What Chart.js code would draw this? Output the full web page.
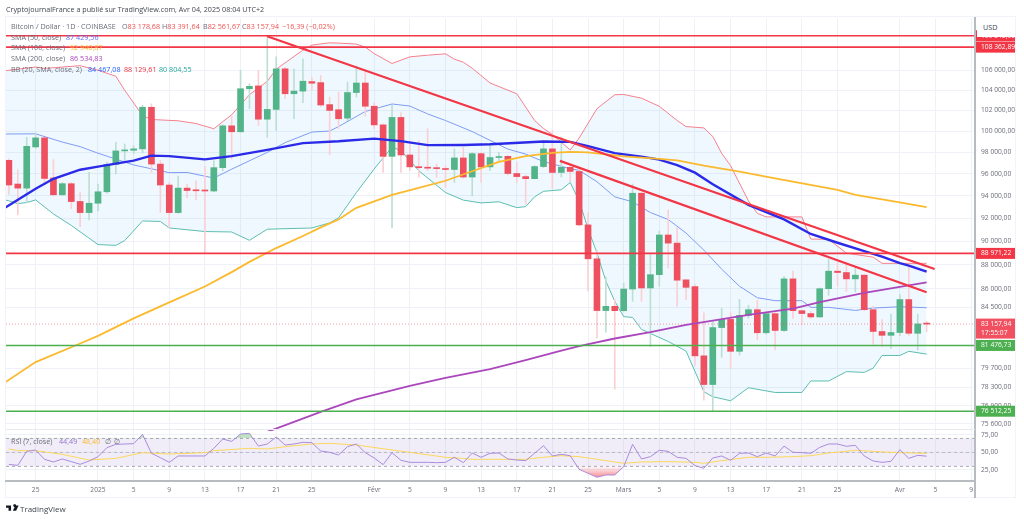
<!DOCTYPE html>
<html>
<head>
<meta charset="utf-8">
<title>Bitcoin / Dollar</title>
<script src="https://cdn.jsdelivr.net/npm/chart.js@4/dist/chart.umd.js"></script>
<style>
  html,body{margin:0;padding:0;background:#fff;}
  body{width:1024px;height:520px;position:relative;overflow:hidden;font-family:"Open Sans",sans-serif;color:#6a6d78;filter:blur(.3px);}
  canvas{position:absolute;left:0;}
  #priceChart{top:0;}
  #rsiChart{top:420px;}
  #frame{position:absolute;left:5px;top:16px;width:1011px;height:482px;border:1px solid #f0f3fa;box-sizing:border-box;}
  #axisLine{position:absolute;left:974px;top:17px;width:2px;height:481px;background:#b8bbc0;}
  #paneLine{position:absolute;left:6px;top:429px;width:969px;height:1px;background:#e8eaee;}
  .t{position:absolute;white-space:nowrap;font-size:7.2px;line-height:10px;}
  #publish{left:6px;top:4px;color:#434651;font-size:7.2px;}
  #usd{position:absolute;left:977px;top:20px;width:38px;height:17px;background:#fff;color:#434651;font-size:7.2px;line-height:15px;text-indent:6px;}
  #tvmark{position:absolute;left:6px;top:504px;}
  #tvname{left:20px;top:504px;color:#434651;font-size:8px;}
  .red{color:#ef5350;} .blue{color:#5b6cff;} .orange{color:#f9b72c;} .violet{color:#ab47bc;}
  .lav{color:#9575cd;} .bbred{color:#f23645;} .teal{color:#26a69a;} .bbblue{color:#2962ff;}
</style>
</head>
<body>
<div id="frame"></div>
<canvas id="priceChart" width="1024" height="441"></canvas>
<canvas id="rsiChart" width="1024" height="80"></canvas>
<div id="axisLine"></div>
<div id="paneLine"></div>

<div class="t" id="publish">CryptojournalFrance a publié sur TradingView.com, Avr 04, 2025 08:04 UTC+2</div>

<div class="t" style="left:11px;top:21px">Bitcoin / Dollar · 1D · COINBASE</div>
<div class="t" style="left:122px;top:21px">O<span class="red">83 178,68</span></div>
<div class="t" style="left:162px;top:21px">H<span class="red">83 391,64</span></div>
<div class="t" style="left:203px;top:21px">B<span class="red">82 561,67</span></div>
<div class="t" style="left:242px;top:21px">C<span class="red">83 157,94</span></div>
<div class="t red" style="left:282px;top:21px">−16,39 (−0,02%)</div>

<div class="t" style="left:11px;top:32px">SMA (50, close)</div>
<div class="t blue" style="left:66px;top:32px">87 429,56</div>
<div class="t" style="left:11px;top:42px">SMA (100, close)</div>
<div class="t orange" style="left:70px;top:42px">92 940,87</div>
<div class="t" style="left:11px;top:53px">SMA (200, close)</div>
<div class="t violet" style="left:70px;top:53px">86 534,83</div>
<div class="t" style="left:11px;top:64px">BB (20, SMA, close, 2)</div>
<div class="t bbblue" style="left:88px;top:64px">84 467,08</div>
<div class="t bbred" style="left:124px;top:64px">88 129,61</div>
<div class="t teal" style="left:159px;top:64px">80 804,55</div>

<div class="t" style="left:11px;top:436px">RSI (7, close)</div>
<div class="t lav" style="left:59px;top:436px">44,49</div>
<div class="t orange" style="left:82px;top:436px">48,40</div>
<div class="t" style="left:105px;top:436px">∅</div>
<div class="t" style="left:114px;top:436px">∅</div>

<div id="usd">USD</div>

<svg id="tvmark" width="13" height="9" viewBox="0 0 36 20"><path fill="#131722" d="M0 2h14v14H7V8H0zM20 2a4 4 0 1 1 0 .01zM26 2h9l-7 14h-9z"/></svg>
<div class="t" id="tvname">TradingView</div>

<script>

// candles, one per day from firstDay on (day 0 = 1 Jan 2025)

const firstDay = -10;

const candleOpen = [
  97250,95070,94700,98500,99360,95620,94100,95100,93500,92510,
  93340,94370,96870,98130,98190,98320,102310,96900,94980,92510,
  94700,94540,94500,94440,96570,100510,99940,104140,104420,101150,
  102100,106140,103640,103900,104850,104750,102570,102070,101250,103760,
  104710,102410,100600,97620,101320,97750,96640,96570,96520,96480,
  96400,97470,95710,97870,96640,97510,97620,96030,95750,95560,
  96670,98320,96130,96600,96220,91430,88510,84240,84580,84230,
  85990,94240,86080,87180,90550,89850,86750,86190,80670,78490,
  82880,83530,81020,83850,84310,82470,83990,82650,86830,84230,
  84000,83730,86020,87471,87360,86830,87140,84310,82570,82270,
  82490,85130,82430,83178.68
];

const candleHigh = [
  97380,96380,99410,99840,99410,97310,95210,95210,94300,96130,
  95070,97060,98940,98780,98620,102510,102650,97220,95210,95810,
  95070,95370,96670,97220,100600,101510,105995,104640,105990,109300,
  107360,106280,106140,107160,105270,105460,103310,103820,104800,106420,
  105820,102750,100700,102510,101780,99010,99103,100230,96900,96750,
  98320,98470,97990,97990,98780,97990,97700,97060,95900,96750,
  99103,100060,99450,96670,96500,92500,89220,87000,85120,86460,
  95070,94300,89020,90897,92750,91180,86770,86360,84050,83370,
  84410,84050,85150,84660,85070,84050,84050,87050,87471,84280,
  84175,86080,88450,88170,88030,87750,87180,84580,83510,83950,
  85540,87970,83950,83391.64
];

const candleLow = [
  94160,92310,93400,98400,95210,94000,94000,92860,91270,91860,
  92660,94240,95980,97060,97850,97940,96130,92510,91180,92450,
  93810,93650,88950,94370,96290,97380,99900,102170,100540,99410,
  100060,103160,101190,102750,103980,102400,97760,100230,101025,103310,
  101440,100230,96130,91180,96130,96290,95680,96290,95680,94780,
  95210,95600,94000,95210,96290,97220,95900,95210,93250,95530,
  96570,94680,95710,95270,91320,85810,82040,82510,78150,84175,
  84987,84987,81400,86220,87740,84580,85120,79930,77330,76466,
  80560,79700,80740,83630,81920,82350,81130,82573,83610,83100,
  83610,83680,85480,86220,85807,85750,84230,81570,81430,81240,
  82250,82250,81130,82561.67
];

const candleClose = [
  94980,94700,98560,99360,95580,94100,95100,93490,92510,93340,
  94370,96870,98130,98190,98320,102310,96900,94980,92510,94700,
  94480,94460,94440,96570,100510,99940,104140,104380,101150,102100,
  106140,103640,103900,104890,104690,102530,102000,101190,103760,104710,
  102410,100600,97620,101320,97750,96640,96570,96520,96480,96400,
  97470,95710,97870,96640,97510,97600,96030,95750,95560,96670,
  98320,96130,96600,96220,91430,88510,84240,84580,84230,85990,
  94240,86080,87180,90550,89850,86720,86130,80670,78490,82880,
  83530,81020,83850,84310,82470,83990,82650,86830,84230,84000,
  83730,86020,87471,87360,86830,87140,84310,82573,82270,82490,
  85130,82430,83170,83157.94
];

// moving averages, read at the days listed next to them

const sma50Days = [-11,-7,-5,-2,0,4,6,8,12,15,19,23,27,31,34,37,41,44,50,53,55,58,61,63,65,67,69,73,77,80,83,86,88,90,91,93];
const sma50 = [92660,94640,95550,96380,96660,97220,97690,97640,97340,97640,98220,98860,99035,99290,99050,98670,98690,98750,99010,98980,98580,97920,97590,97310,96800,96110,95050,93200,91910,90640,89880,89168,88700,88150,87940,87430];

const sma100Days = [-11,-7,-2,0,4,8,12,15,17,20,23,25,27,29,33,36,39,42,45,48,51,53,55,59,63,65,68,72,76,83,85,89,93];
const sma100 = [78400,80190,81630,82225,83610,84905,86195,87390,88250,89426,90460,91210,91900,92930,94095,94730,95368,96240,97100,97640,97940,98030,97990,97620,97380,97240,96750,96200,95590,94550,94095,93554,92990];

const sma200Days = [18,19,22,25,29,35,39,44,48,52,54,58,62,66,69,73,78,81,86,91,93];
const sma200 = [74800,75020,75731,76466,77390,78380,78990,79650,80340,81080,81430,82020,82520,83090,83430,83890,84400,84930,85670,86290,86535];

// bollinger bands

const bbUpperDays = [-11,-7,-6,-2,0,2,3,5,6,9,11,13,15,17,19,20,23,24,26,27,29,30,31,33,35,37,39,40,41,42,44,47,49,50,51,53,54,56,58,59,61,63,65,66,68,69,70,71,73,74,75,79,80,82,84,87,88,91,93];
const bbUpper = [105890,106320,106180,106460,105995,105390,103979,101510,101120,100995,100730,100230,101580,103540,104880,106100,108051,108570,108810,108780,108680,108363,107690,106680,107360,107530,107670,107120,106810,106200,104710,103640,101025,100250,99680,98220,99340,102170,103540,103570,103200,102400,101025,100440,100310,99490,97900,96750,93554,92440,92130,92130,90200,90170,88995,88650,88130,88130,88130];

const bbBasisDays = [-11,-7,-4,-2,0,4,8,10,13,15,19,21,24,26,27,30,33,35,37,39,42,46,48,50,53,54,56,58,60,62,64,66,68,70,72,74,76,79,80,82,85,87,90,93];
const bbBasis = [99725,99745,98960,98530,97910,96820,96110,96130,95620,96430,97990,98910,99910,100010,100440,101900,102630,102430,101660,101025,99960,98300,97830,97130,96470,96320,95280,93910,93470,92510,91900,90720,89250,87640,86220,85280,85040,85040,84500,84500,84250,84440,84550,84467];

const bbLowerDays = [-11,-10,-9,-8,-7,-5,-3,0,2,3,5,7,8,12,15,17,19,24,26,27,29,31,33,34,36,39,41,43,45,47,48,49,50,52,53,54,55,56,57,58,59,60,61,64,66,68,69,71,73,76,79,80,82,84,86,87,88,90,91,93];
const bbLower = [93730,93554,93310,93400,93640,92390,91380,89725,89655,90070,91774,91730,91160,90850,90810,90090,91050,91160,91600,92040,94300,96450,98480,98156,96289,94300,93620,93370,93470,92950,93040,93910,94410,94550,95210,93554,91070,89020,86635,84987,83750,83690,82730,81784,81040,77949,77580,77280,78250,77895,77895,78755,78755,79461,79405,79730,80700,80700,81020,80805];

// trend lines: day, price at both ends

const trendADays = [18.97,93.9];
const trendAPrices = [109500,87660];
const trendBDays = [51.85,93];
const trendBPrices = [97200,85725];

// horizontal levels

const redLevels = [109545,108362.89,88971.22];
const greenLevels = [81476.73,76512.25];
const lastPrice = 83157.94;
const countdown = "17:55:07";

// rsi pane

const rsiValues = [
  32.6,31.4,51.4,53.3,40,36.2,40.5,36.7,32.9,37.6,
  43.8,56.7,61.4,61.9,62.4,75.7,48.6,42.4,35.7,44.8,
  44.8,44.8,44.8,55.7,69,65.7,76.2,77.1,59,61.9,
  71.9,60.5,61.9,64.3,63.8,51.9,50,46.2,58.1,61.9,
  49.5,41.9,32.4,49.5,38.6,35.7,35.7,35.7,35.2,35.7,
  42.9,35.2,49,42.9,48.6,49,40.5,39,38.1,48.6,
  59.5,44.8,47.1,45.2,25.7,20,14.3,17.6,17.6,29.5,
  61.4,40.5,43.8,52.9,51.4,42.9,41.4,31,27.2,41.9,
  44.8,38.6,48.6,49,43.8,49,44.8,59,50,49.5,
  48.6,57.1,61.9,61.9,58.6,60,44.8,37.6,35.7,37.1,
  53.8,41.4,45.7,44.49
];

const rsiMaDays = [-10,-9,-7,-4,-1,2,5,8,12,13,17,19,21,24,26,29,33,35,39,41,42,46,48,50,52,54,57,59,61,64,67,68,70,73,75,78,80,82,85,87,89,93];
const rsiMa = [54.8,52.4,52.4,47.1,39,41.4,49.5,47.6,49.5,52.4,55.7,54.8,58.1,61.9,62.9,60.5,53.3,50,42.9,41.4,40,40,40,42.9,45.2,43.8,38.1,34.3,36.2,36.7,35.7,34.3,38.1,42.9,42.9,43.8,45.2,49,52.9,51.4,50,48.4];

const rsiLevels = [70,50,30];

// axes

const priceTicks = [106000,104000,102000,100000,98000,96000,94000,92000,90000,88000,86000,84500,79700,78300,76900,75600];
const rsiTicks = [75,50,25];
const dayTicks = [-7,0,4,8,12,16,20,24,31,35,39,43,47,51,55,59,63,67,71,75,79,83,90,94,98];
const dayNames = ["25","2025","5","9","13","17","21","25","Févr","5","9","13","17","21","25","Mars","5","9","13","17","21","25","Avr","5","9"];

const xMin = -10.325;
const xMax = 98.43;

const gridColor = "#eef2f8";
const labelColor = "#6a6d78";
const labelFont = {family:"'Open Sans',sans-serif",size:6.7};

const up = "#52b488";
const down = "#ef5060";
const upWick = "#bddfd3";
const downWick = "#fad0d5";

function money(v){
  return v.toFixed(2).replace(".",",").replace(/\B(?=(\d{3})+,)/g," ");
}

function pairs(days,values){
  return days.map((d,i)=>({x:d,y:values[i]}));
}

function dayOf(i){
  return firstDay + i;
}

function line(days,values,color,width,order){
  return {
    type:"line",
    data:pairs(days,values),
    borderColor:color,
    borderWidth:width,
    pointRadius:0,
    tension:0,
    fill:false,
    order:order
  };
}

function level(value,color,width,order){
  return line([xMin,xMax],[value,value],color,width,order);
}

// price tags on the right axis

const priceTags = {
  id:"priceTags",
  afterDraw(chart){
    const ctx = chart.ctx;
    const y = chart.scales.y;
    const tag = (value,color,lines)=>{
      const py = y.getPixelForValue(value);
      const h = lines.length*9+2;
      const top = lines.length>1 ? py-5.5 : py-h/2;
      ctx.fillStyle = color;
      ctx.fillRect(976,top,39,h);
      ctx.fillStyle = "#fff";
      ctx.font = "6.7px 'Open Sans',sans-serif";
      ctx.textBaseline = "middle";
      ctx.textAlign = "left";
      lines.forEach((t,i)=>ctx.fillText(t,981,top+5.5+i*9));
    };
    redLevels.forEach(v=>tag(v,"#f23645",[money(v)]));
    tag(lastPrice,"#f0505f",[money(lastPrice),countdown]);
    greenLevels.forEach(v=>tag(v,"#4caf50",[money(v)]));
  }
};

function dayAxis(showLabels){
  return {
    type:"linear",
    offset:false,
    min:xMin,
    max:xMax,
    afterBuildTicks(scale){
      scale.ticks = dayTicks.map(v=>({value:v}));
    },
    grid:{color:gridColor,lineWidth:1,drawTicks:false,offset:false},
    border:{display:showLabels,color:"#b8bbc0",width:2},
    ticks:{
      display:showLabels,
      autoSkip:false,
      maxRotation:0,
      padding:5,
      color:labelColor,
      font:labelFont,
      callback:v=>dayNames[dayTicks.indexOf(v)]
    },
    afterFit(scale){
      scale.height = showLabels ? 17 : 0;
    }
  };
}

new Chart(document.getElementById("priceChart"),{

  type:"bar",

  data:{
    datasets:[

      // band between upper and lower
      {
        ...line(bbUpperDays,bbUpper,"#f7808c",1,8),
        fill:"+1",
        backgroundColor:"rgba(33,150,243,.07)"
      },
      line(bbLowerDays,bbLower,"#5fbfae",1,8),
      line(bbBasisDays,bbBasis,"#7f9cf5",1,7),

      {
        type:"bar",
        data:candleHigh.map((h,i)=>({x:dayOf(i),y:[candleLow[i],h]})),
        backgroundColor:candleClose.map((c,i)=>c>=candleOpen[i]?upWick:downWick),
        barThickness:1,
        grouped:false,
        order:6
      },
      {
        type:"bar",
        data:candleOpen.map((o,i)=>({x:dayOf(i),y:[o,candleClose[i]]})),
        backgroundColor:candleClose.map((c,i)=>c>=candleOpen[i]?up:down),
        barThickness:6,
        grouped:false,
        minBarLength:1,
        order:5
      },

      {
        ...level(lastPrice,"rgba(239,80,96,.55)",1,4),
        borderDash:[1,2]
      },

      line(sma200Days,sma200,"#ab47bc",1.8,3),
      line(sma100Days,sma100,"#fbb92d",1.8,3),
      line(sma50Days,sma50,"#2a2ae8",2.4,3),

      ...greenLevels.map(v=>level(v,"#4caf50",1.6,2)),
      ...redLevels.map(v=>level(v,"#f23645",1.6,2)),

      line(trendADays,trendAPrices,"#f23645",2.2,1),
      line(trendBDays,trendBPrices,"#f23645",2.2,1)

    ]
  },

  options:{
    responsive:false,
    animation:false,
    layout:{autoPadding:false,padding:{left:6,top:18,right:8,bottom:1}},
    plugins:{legend:{display:false},tooltip:{enabled:false}},
    scales:{
      x:dayAxis(false),
      y:{
        type:"logarithmic",
        position:"right",
        min:75080,
        max:111423,
        afterBuildTicks(scale){
          scale.ticks = priceTicks.map(v=>({value:v}));
        },
        grid:{color:gridColor,lineWidth:1,drawTicks:false},
        border:{display:false},
        ticks:{
          autoSkip:false,
          padding:6,
          color:labelColor,
          font:labelFont,
          callback:v=>money(v)
        },
        afterFit(scale){
          scale.width = 41;
        }
      }
    }
  },

  plugins:[priceTags]

});

// rsi pane

const rsiCanvas = document.getElementById("rsiChart");
const rsiCtx = rsiCanvas.getContext("2d");

const lowFill = rsiCtx.createLinearGradient(0,47,0,60);
lowFill.addColorStop(0,"rgba(242,54,69,.05)");
lowFill.addColorStop(1,"rgba(242,54,69,.7)");

new Chart(rsiCanvas,{

  type:"line",

  data:{
    datasets:[
      {
        ...level(rsiLevels[0],"#9598a1",.8,5),
        borderDash:[3,3],
        fill:"+2",
        backgroundColor:"rgba(126,87,194,.11)"
      },
      {
        ...level(rsiLevels[1],"#b2b5be",.8,5),
        borderDash:[3,3]
      },
      {
        ...level(rsiLevels[2],"#9598a1",.8,5),
        borderDash:[3,3]
      },
      line(rsiMaDays,rsiMa,"#fbd75b",1,3),
      {
        ...line(rsiValues.map((v,i)=>dayOf(i)),rsiValues,"#a98bdc",1,2),
        fill:{target:{value:rsiLevels[2]},above:"rgba(0,0,0,0)",below:lowFill}
      },
      {
        ...line(rsiValues.map((v,i)=>dayOf(i)),rsiValues,"rgba(0,0,0,0)",0,2),
        fill:{target:{value:rsiLevels[0]},above:"rgba(76,175,80,.35)",below:"rgba(0,0,0,0)"}
      }
    ]
  },

  options:{
    responsive:false,
    animation:false,
    layout:{autoPadding:false,padding:{left:6,top:0,right:8,bottom:2}},
    plugins:{legend:{display:false},tooltip:{enabled:false}},
    scales:{
      x:dayAxis(true),
      y:{
        type:"linear",
        position:"right",
        min:9,
        max:81.9,
        afterBuildTicks(scale){
          scale.ticks = rsiTicks.map(v=>({value:v}));
        },
        grid:{color:gridColor,lineWidth:1,drawTicks:false},
        border:{display:false},
        ticks:{
          autoSkip:false,
          padding:6,
          color:labelColor,
          font:labelFont,
          callback:v=>v.toFixed(2).replace(".",",")
        },
        afterFit(scale){
          scale.width = 41;
        }
      }
    }
  }

});

</script>
</body>
</html>
